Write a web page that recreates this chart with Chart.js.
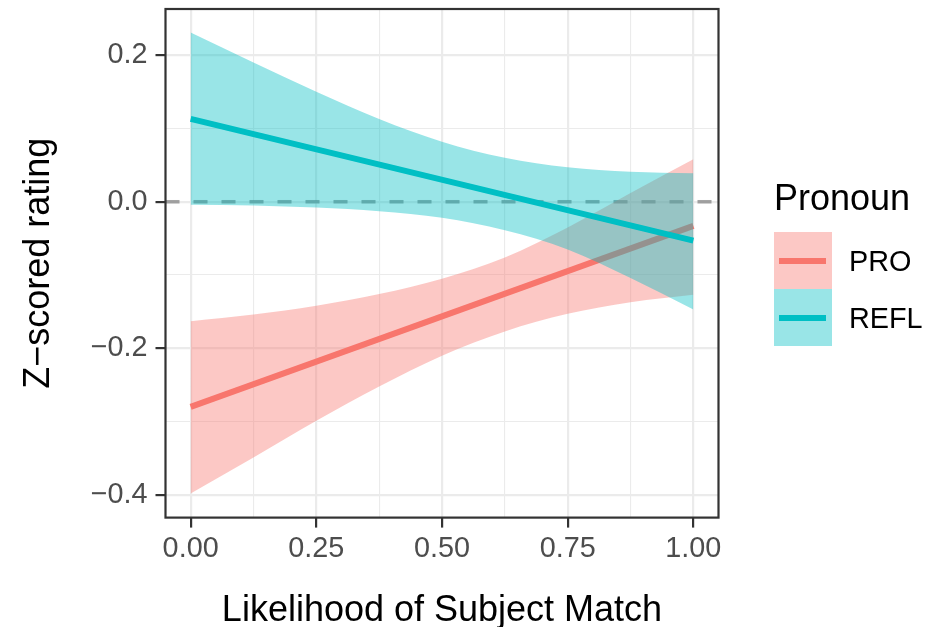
<!DOCTYPE html>
<html>
<head>
<meta charset="utf-8">
<script src="https://cdn.jsdelivr.net/npm/chart.js@4.4.1/dist/chart.umd.min.js"></script>
<style>
    body { margin: 0; background: #fff; }
    #wrap { position: relative; width: 934px; height: 627px; font-family: "Liberation Sans", Arial, Helvetica, sans-serif; }
    #ratingChart { position: absolute; left: 0; top: 0; }
    .legend-title { position: absolute; left: 774px; top: 180px; font-size: 36px; line-height: 36px; color: #000; }
    .legend-key { position: absolute; left: 774px; width: 58px; height: 57px; }
    .legend-key span { position: absolute; left: 5px; top: 25.5px; width: 47px; height: 6px; }
    .legend-label { position: absolute; left: 849px; font-size: 28.8px; line-height: 28.8px; color: #000; }
</style>
</head>
<body>
<div id="wrap">
    <canvas id="ratingChart" width="934" height="627"></canvas>
    <div id="legend"></div>
</div>
<script>
// values
const pronouns = ['PRO', 'REFL'];
const lineColors = ['#F8766D', '#00BFC4'];
const ribbonColors = ['rgba(248,118,109,0.4)', 'rgba(0,191,196,0.4)'];

const ribbonX = [0, 0.125, 0.25, 0.375, 0.5, 0.625, 0.75, 0.875, 1];
const proUpper = [-0.163, -0.154, -0.142, -0.126, -0.105, -0.076, -0.035, 0.012, 0.058];
const proLower = [-0.398, -0.349, -0.299, -0.252, -0.210, -0.177, -0.153, -0.137, -0.127];
const reflUpper = [0.231, 0.190, 0.150, 0.113, 0.082, 0.060, 0.047, 0.041, 0.039];
const reflLower = [-0.004, -0.005, -0.008, -0.013, -0.022, -0.039, -0.065, -0.104, -0.147];

const fitX = [0, 1];
const proFit = [-0.280, -0.033];
const reflFit = [0.113, -0.053];

const xTicks = [0, 0.125, 0.25, 0.375, 0.5, 0.625, 0.75, 0.875, 1];
const yTicks = [-0.4, -0.3, -0.2, -0.1, 0, 0.1, 0.2];
const xMajor = [0, 0.25, 0.5, 0.75, 1];
const yMajor = [-0.4, -0.2, 0, 0.2];

const FONT = '"Liberation Sans", Arial, Helvetica, sans-serif';

function toPoints(xs, ys) {
    return xs.map((x, i) => ({ x: x, y: ys[i] }));
}

function isMajor(list, v) {
    return list.some(m => Math.abs(m - v) < 1e-9);
}

function lineSet(label, xs, ys, color) {
    return {
        label: label,
        data: toPoints(xs, ys),
        borderColor: color,
        borderWidth: 6,
        pointRadius: 0,
        fill: false,
        borderCapStyle: 'butt'
    };
}

function bandSet(label, ys, color, fill) {
    return {
        label: label,
        data: toPoints(ribbonX, ys),
        borderWidth: 0,
        borderColor: 'rgba(0,0,0,0)',
        backgroundColor: color,
        pointRadius: 0,
        cubicInterpolationMode: 'monotone',
        fill: fill
    };
}

// ggplot style panel border
const panelBorder = {
    id: 'panelBorder',
    afterDatasetsDraw(chart) {
        const { ctx, chartArea: a } = chart;
        ctx.save();
        ctx.strokeStyle = '#333333';
        ctx.lineWidth = 2.2;
        ctx.strokeRect(a.left, a.top, a.right - a.left, a.bottom - a.top);
        ctx.restore();
    }
};

function buildLegend() {
    const legend = document.getElementById('legend');
    let html = '<div class="legend-title">Pronoun</div>';
    pronouns.forEach((p, i) => {
        const top = 232 + i * 57.3;
        html += `<div class="legend-key" style="top:${top}px; background:${ribbonColors[i]};">
                    <span style="background:${lineColors[i]};"></span></div>
                 <div class="legend-label" style="top:${top + 15}px;">${p}</div>`;
    });
    legend.innerHTML = html;
}

function noEdgePadding(s) {
    s.paddingTop = 0;
    s.paddingBottom = 0;
    s.paddingLeft = 0;
    s.paddingRight = 0;
}

function initChart() {
    const ctx = document.getElementById('ratingChart').getContext('2d');
    new Chart(ctx, {
        type: 'line',
        data: {
            datasets: [
                lineSet('REFL', fitX, reflFit, lineColors[1]),
                bandSet('REFL upper', reflUpper, ribbonColors[1], '+1'),
                bandSet('REFL lower', reflLower, ribbonColors[1], false),
                lineSet('PRO', fitX, proFit, lineColors[0]),
                bandSet('PRO upper', proUpper, ribbonColors[0], '+1'),
                bandSet('PRO lower', proLower, ribbonColors[0], false),
                {
                    label: 'zero',
                    data: [{ x: -0.05, y: 0 }, { x: 1.05, y: 0 }],
                    borderColor: 'rgba(127,127,127,0.7)',
                    borderWidth: 3.5,
                    borderDash: [14, 14],
                    pointRadius: 0,
                    fill: false
                }
            ]
        },
        options: {
            responsive: false,
            animation: false,
            layout: { padding: { top: 9, right: 215.5, left: 0, bottom: 0 } },
            plugins: {
                legend: { display: false },
                tooltip: { enabled: false }
            },
            scales: {
                x: {
                    type: 'linear',
                    min: -0.05,
                    max: 1.05,
                    afterBuildTicks: s => { s.ticks = xTicks.map(v => ({ value: v })); },
                    afterFit: s => { s.height = 109.4; noEdgePadding(s); },
                    border: { display: false },
                    grid: {
                        color: '#ebebeb',
                        lineWidth: c => isMajor(xMajor, c.tick.value) ? 2.2 : 1.1,
                        tickLength: 10,
                        tickWidth: 2.2,
                        tickColor: c => isMajor(xMajor, c.tick.value) ? '#333333' : 'rgba(0,0,0,0)'
                    },
                    ticks: {
                        autoSkip: false,
                        maxRotation: 0,
                        padding: 4,
                        color: '#4d4d4d',
                        font: { family: FONT, size: 28.8 },
                        callback: v => isMajor(xMajor, v) ? v.toFixed(2) : ''
                    },
                    title: {
                        display: true,
                        text: 'Likelihood of Subject Match',
                        color: '#000',
                        font: { family: FONT, size: 36, lineHeight: 1 },
                        padding: { top: 0, bottom: -2 }
                    }
                },
                y: {
                    type: 'linear',
                    min: -0.431,
                    max: 0.263,
                    afterBuildTicks: s => { s.ticks = yTicks.map(v => ({ value: v })); },
                    afterFit: s => { s.width = 165.5; noEdgePadding(s); },
                    border: { display: false },
                    grid: {
                        color: '#ebebeb',
                        lineWidth: c => isMajor(yMajor, c.tick.value) ? 2.2 : 1.1,
                        tickLength: 10,
                        tickWidth: 2.2,
                        tickColor: c => isMajor(yMajor, c.tick.value) ? '#333333' : 'rgba(0,0,0,0)'
                    },
                    ticks: {
                        autoSkip: false,
                        padding: 8,
                        color: '#4d4d4d',
                        font: { family: FONT, size: 28.8 },
                        callback: v => {
                            if (!isMajor(yMajor, v)) return '';
                            if (Math.abs(v) < 1e-9) return '0.0';
                            return (v < 0 ? '\u2212' : '') + Math.abs(v).toFixed(1);
                        }
                    },
                    title: {
                        display: true,
                        text: 'Z\u2212scored rating',
                        color: '#000',
                        font: { family: FONT, size: 36, lineHeight: 1 },
                        padding: { top: 21, bottom: 0 }
                    }
                }
            }
        },
        plugins: [panelBorder]
    });
}

document.addEventListener('DOMContentLoaded', function() {
    buildLegend();
    initChart();
});
</script>
</body>
</html>
